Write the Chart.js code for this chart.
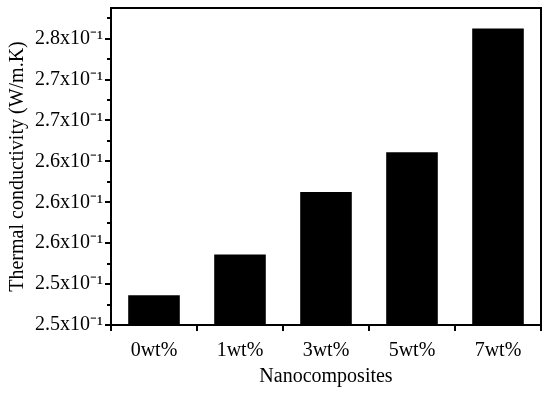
<!DOCTYPE html>
<html lang="en">
<head>
    <meta charset="UTF-8">
    <title>Thermal conductivity</title>
    <script src="https://cdn.jsdelivr.net/npm/chart.js"></script>
    <style>
        body { margin: 0; background: #fff; }
        #wrap { width: 550px; height: 393px; }
    </style>
</head>
<body>
    <div id="wrap"><canvas id="chart"></canvas></div>

    <script>
        // data
        const categories = ['0wt%', '1wt%', '3wt%', '5wt%', '7wt%'];
        const conductivity = [0.2509, 0.2549, 0.2610, 0.2649, 0.2770];
        const yTickValues = [0.248, 0.252, 0.256, 0.260, 0.264, 0.268, 0.272, 0.276];
        const yTickLabels = ['2.5x10⁻¹', '2.5x10⁻¹', '2.6x10⁻¹', '2.6x10⁻¹', '2.6x10⁻¹', '2.7x10⁻¹', '2.7x10⁻¹', '2.8x10⁻¹'];
        const yMinorValues = [0.250, 0.254, 0.258, 0.262, 0.266, 0.270, 0.274, 0.278];

        const tickFont = { family: 'Liberation Serif', size: 20 };
        const titleFont = { family: 'Liberation Serif', size: 20 };

        // box around plot + short minor ticks on the y axis
        const framePlugin = {
            id: 'frame',
            afterDraw(chart) {
                const ctx = chart.ctx;
                const a = chart.chartArea;
                const y = chart.scales.y;
                ctx.save();
                ctx.strokeStyle = '#000';
                ctx.lineWidth = 2;
                ctx.strokeRect(a.left, a.top, a.right - a.left, a.bottom - a.top);
                ctx.beginPath();
                yMinorValues.forEach(v => {
                    const py = Math.round(y.getPixelForValue(v));
                    ctx.moveTo(a.left - 4, py);
                    ctx.lineTo(a.left, py);
                });
                ctx.stroke();
                ctx.restore();
            }
        };

        new Chart(document.getElementById('chart'), {
            type: 'bar',
            data: {
                labels: categories,
                datasets: [{
                    data: conductivity,
                    backgroundColor: '#000',
                    borderWidth: 0,
                    categoryPercentage: 1.0,
                    barPercentage: 0.6
                }]
            },
            options: {
                responsive: true,
                maintainAspectRatio: false,
                animation: false,
                layout: { padding: { top: 8, right: 9, left: 0, bottom: 0 } },
                plugins: {
                    legend: { display: false },
                    tooltip: { enabled: false }
                },
                scales: {
                    x: {
                        grid: { drawOnChartArea: false, color: '#000', lineWidth: 2, tickLength: 6 },
                        border: { color: '#000', width: 2 },
                        ticks: { color: '#000', font: tickFont, padding: 8 },
                        title: { display: true, text: 'Nanocomposites', color: '#000', font: titleFont, padding: { top: 0 } },
                        afterFit(scale) { scale.height = 68; }
                    },
                    y: {
                        min: 0.248,
                        max: 0.279,
                        afterBuildTicks(scale) {
                            scale.ticks = yTickValues.map(v => ({ value: v }));
                        },
                        grid: { drawOnChartArea: false, color: '#000', lineWidth: 2, tickLength: 6 },
                        border: { color: '#000', width: 2 },
                        ticks: {
                            color: '#000',
                            font: tickFont,
                            padding: 2,
                            callback: (val, i) => yTickLabels[i]
                        },
                        title: { display: true, text: 'Thermal conductivity (W/m.K)', color: '#000', font: titleFont, padding: { top: 6, bottom: 0 } },
                        afterFit(scale) {
                            scale.width = 111;
                            scale.paddingTop = 0;
                            scale.paddingBottom = 0;
                        }
                    }
                }
            },
            plugins: [framePlugin]
        });
    </script>
</body>
</html>
